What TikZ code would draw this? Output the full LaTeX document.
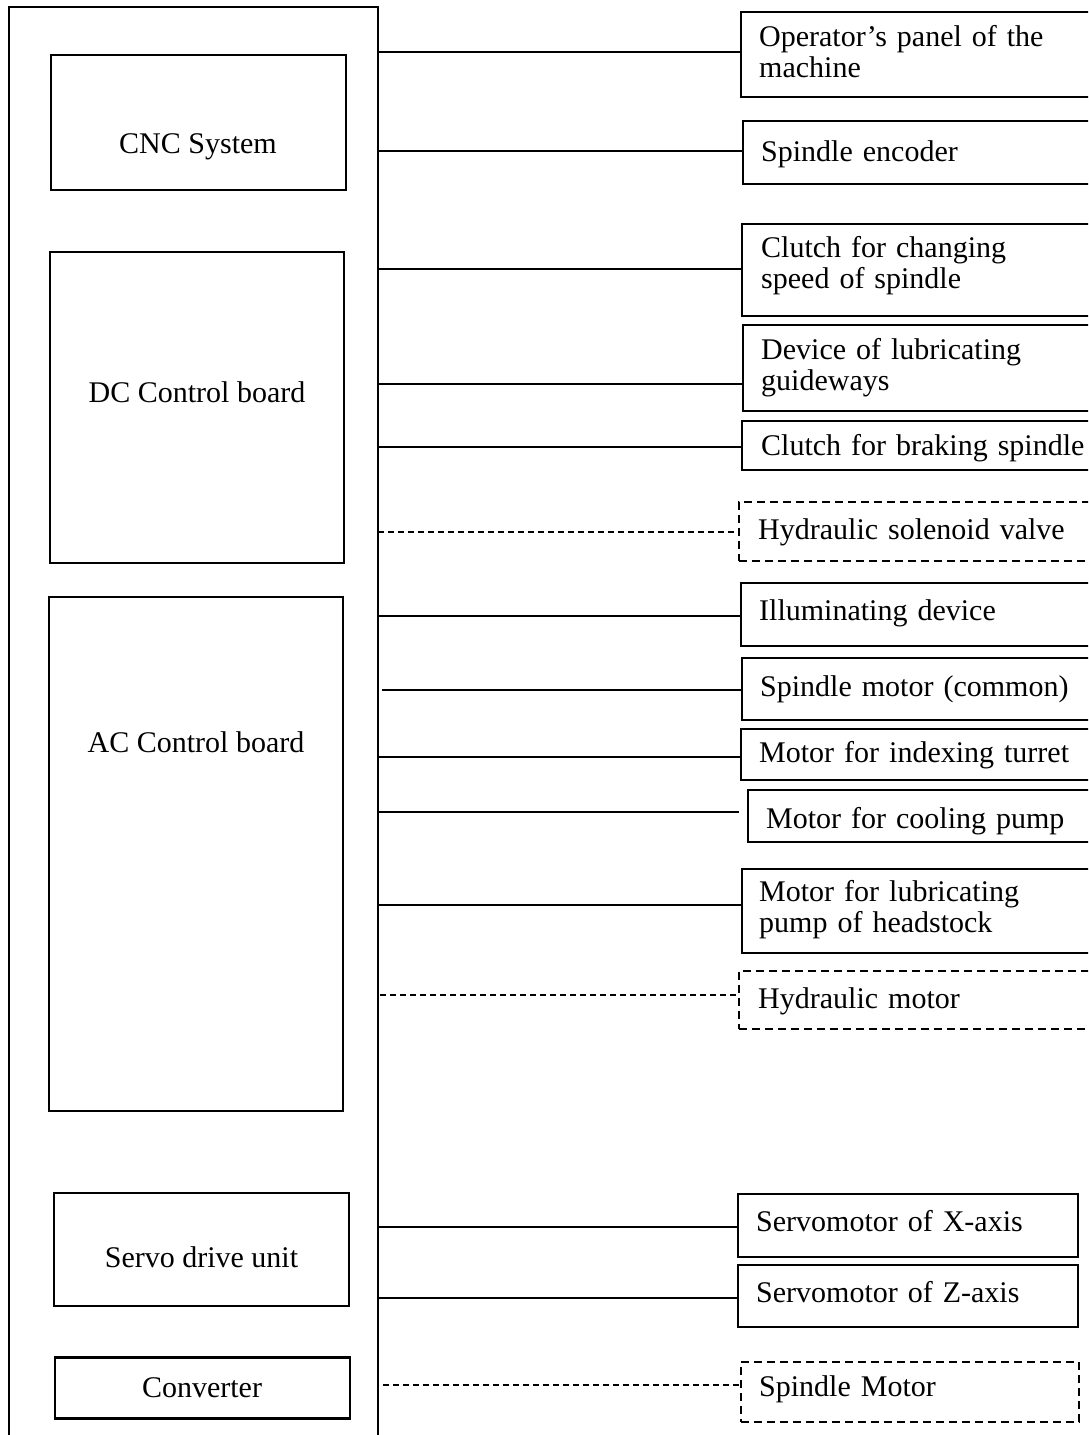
\documentclass[tikz,border=0pt]{standalone}
\usepackage{fontspec}
\setmainfont{Liberation Serif}
\begin{document}
\begin{tikzpicture}[x=1pt,y=-1pt,
  lbox/.style={draw,line width=2.2pt,inner sep=0pt},
  rbox/.style={draw,line width=1.8pt,inner sep=0pt,anchor=north west},
  dbox/.style={rbox,dash pattern=on 8pt off 5pt},
  txt/.style={inner sep=0pt,anchor=base west,font=\fontsize{30}{31}\selectfont,align=left,text width=330pt},
  ctxt/.style={inner sep=0pt,anchor=base,font=\fontsize{30}{31}\selectfont},
  wire/.style={line width=1.5pt},
  dwire/.style={line width=1.5pt,dash pattern=on 6pt off 4pt}]
\useasboundingbox (0,0) rectangle (1088,1435);
\clip (0,0) rectangle (1088,1435);
\fill[white] (0,0) rectangle (1088,1435);

% outer frame
\coordinate (bus) at (378,0);
\draw[wire] (9,1445) -- (9,7) -- (378,7) -- (bus |- 0,1445);

% left boxes
\node[lbox,minimum width=295,minimum height=135] (cnc) at (198.5,122.5) {};
\node[ctxt] (cnct) at (198,153) {CNC System};
\node[lbox,minimum width=294,minimum height=311] (dc) at (197,407.5) {};
\node[ctxt] (dct) at (197,402) {DC Control board};
\node[lbox,minimum width=294,minimum height=514] (ac) at (196,854) {};
\node[ctxt] (act) at (196,752) {AC Control board};
\node[lbox,minimum width=295,minimum height=113] (servo) at (201.5,1249.5) {};
\node[ctxt] (servot) at (201.5,1267) {Servo drive unit};
\node[lbox,minimum width=295,minimum height=61] (conv) at (202.5,1388) {};
\node[ctxt] (convt) at (202,1397) {Converter};

% right boxes
\node[rbox,minimum width=380,minimum height=85] (op) at (740,11) {};
\node[txt] (opt) at (759,46) {Operator’s panel of the\\machine};
\node[rbox,minimum width=380,minimum height=63] (enc) at (742,120) {};
\node[txt] (enct) at (761,161) {Spindle encoder};
\node[rbox,minimum width=380,minimum height=92] (clc) at (741,223) {};
\node[txt] (clct) at (761,257) {Clutch for changing\\speed of spindle};
\node[rbox,minimum width=380,minimum height=86] (dev) at (742,324) {};
\node[txt] (devt) at (761,359) {Device of lubricating\\guideways};
\node[rbox,minimum width=380,minimum height=49] (brk) at (741,420) {};
\node[txt] (brkt) at (761,455) {Clutch for braking spindle};
\node[dbox,minimum width=380,minimum height=59] (hsv) at (738,501) {};
\node[txt] (hsvt) at (758,539) {Hydraulic solenoid valve};
\node[rbox,minimum width=380,minimum height=63] (ill) at (740,582) {};
\node[txt] (illt) at (759,620) {Illuminating device};
\node[rbox,minimum width=380,minimum height=62] (spc) at (741,657) {};
\node[txt] (spct) at (760,696) {Spindle motor (common)};
\node[rbox,minimum width=380,minimum height=51] (idx) at (740,728) {};
\node[txt] (idxt) at (759,762) {Motor for indexing turret};
\node[rbox,minimum width=380,minimum height=52] (cool) at (747,789) {};
\node[txt] (coolt) at (766,828) {Motor for cooling pump};
\node[rbox,minimum width=380,minimum height=84] (lub) at (741,868) {};
\node[txt] (lubt) at (759,901) {Motor for lubricating\\pump of headstock};
\node[dbox,minimum width=380,minimum height=58] (hmo) at (738,970) {};
\node[txt] (hmot) at (758,1008) {Hydraulic motor};
\node[rbox,minimum width=340,minimum height=63] (sx) at (737,1193) {};
\node[txt] (sxt) at (756,1231) {Servomotor of X-axis};
\node[rbox,minimum width=340,minimum height=62] (sz) at (737,1264) {};
\node[txt] (szt) at (756,1302) {Servomotor of Z-axis};
\node[dbox,minimum width=338,minimum height=60] (smo) at (740,1361) {};
\node[txt] (smot) at (759,1396) {Spindle Motor};

% connectors
\draw[wire] (bus |- 0,52) -- (op.west |- 0,52);
\draw[wire] (bus |- 0,151) -- (enc.west |- 0,151);
\draw[wire] (bus |- 0,269) -- (clc.west |- 0,269);
\draw[wire] (bus |- 0,384) -- (dev.west |- 0,384);
\draw[wire] (bus |- 0,447) -- (brk.west |- 0,447);
\draw[dwire] (bus |- 0,532) -- (hsv.west |- 0,532);
\draw[wire] (bus |- 0,616) -- (ill.west |- 0,616);
\draw[wire] ([xshift=4pt]bus |- 0,690) -- (spc.west |- 0,690);
\draw[wire] (bus |- 0,757) -- (idx.west |- 0,757);
\draw[wire] (bus |- 0,812) -- ([xshift=-8pt]cool.west |- 0,812);
\draw[wire] (bus |- 0,905) -- (lub.west |- 0,905);
\draw[dwire] ([xshift=2pt]bus |- 0,995) -- (hmo.west |- 0,995);
\draw[wire] (bus |- 0,1227) -- (sx.west |- 0,1227);
\draw[wire] (bus |- 0,1298) -- (sz.west |- 0,1298);
\draw[dwire] ([xshift=5pt]bus |- 0,1385) -- (smo.west |- 0,1385);
\end{tikzpicture}
\end{document}
